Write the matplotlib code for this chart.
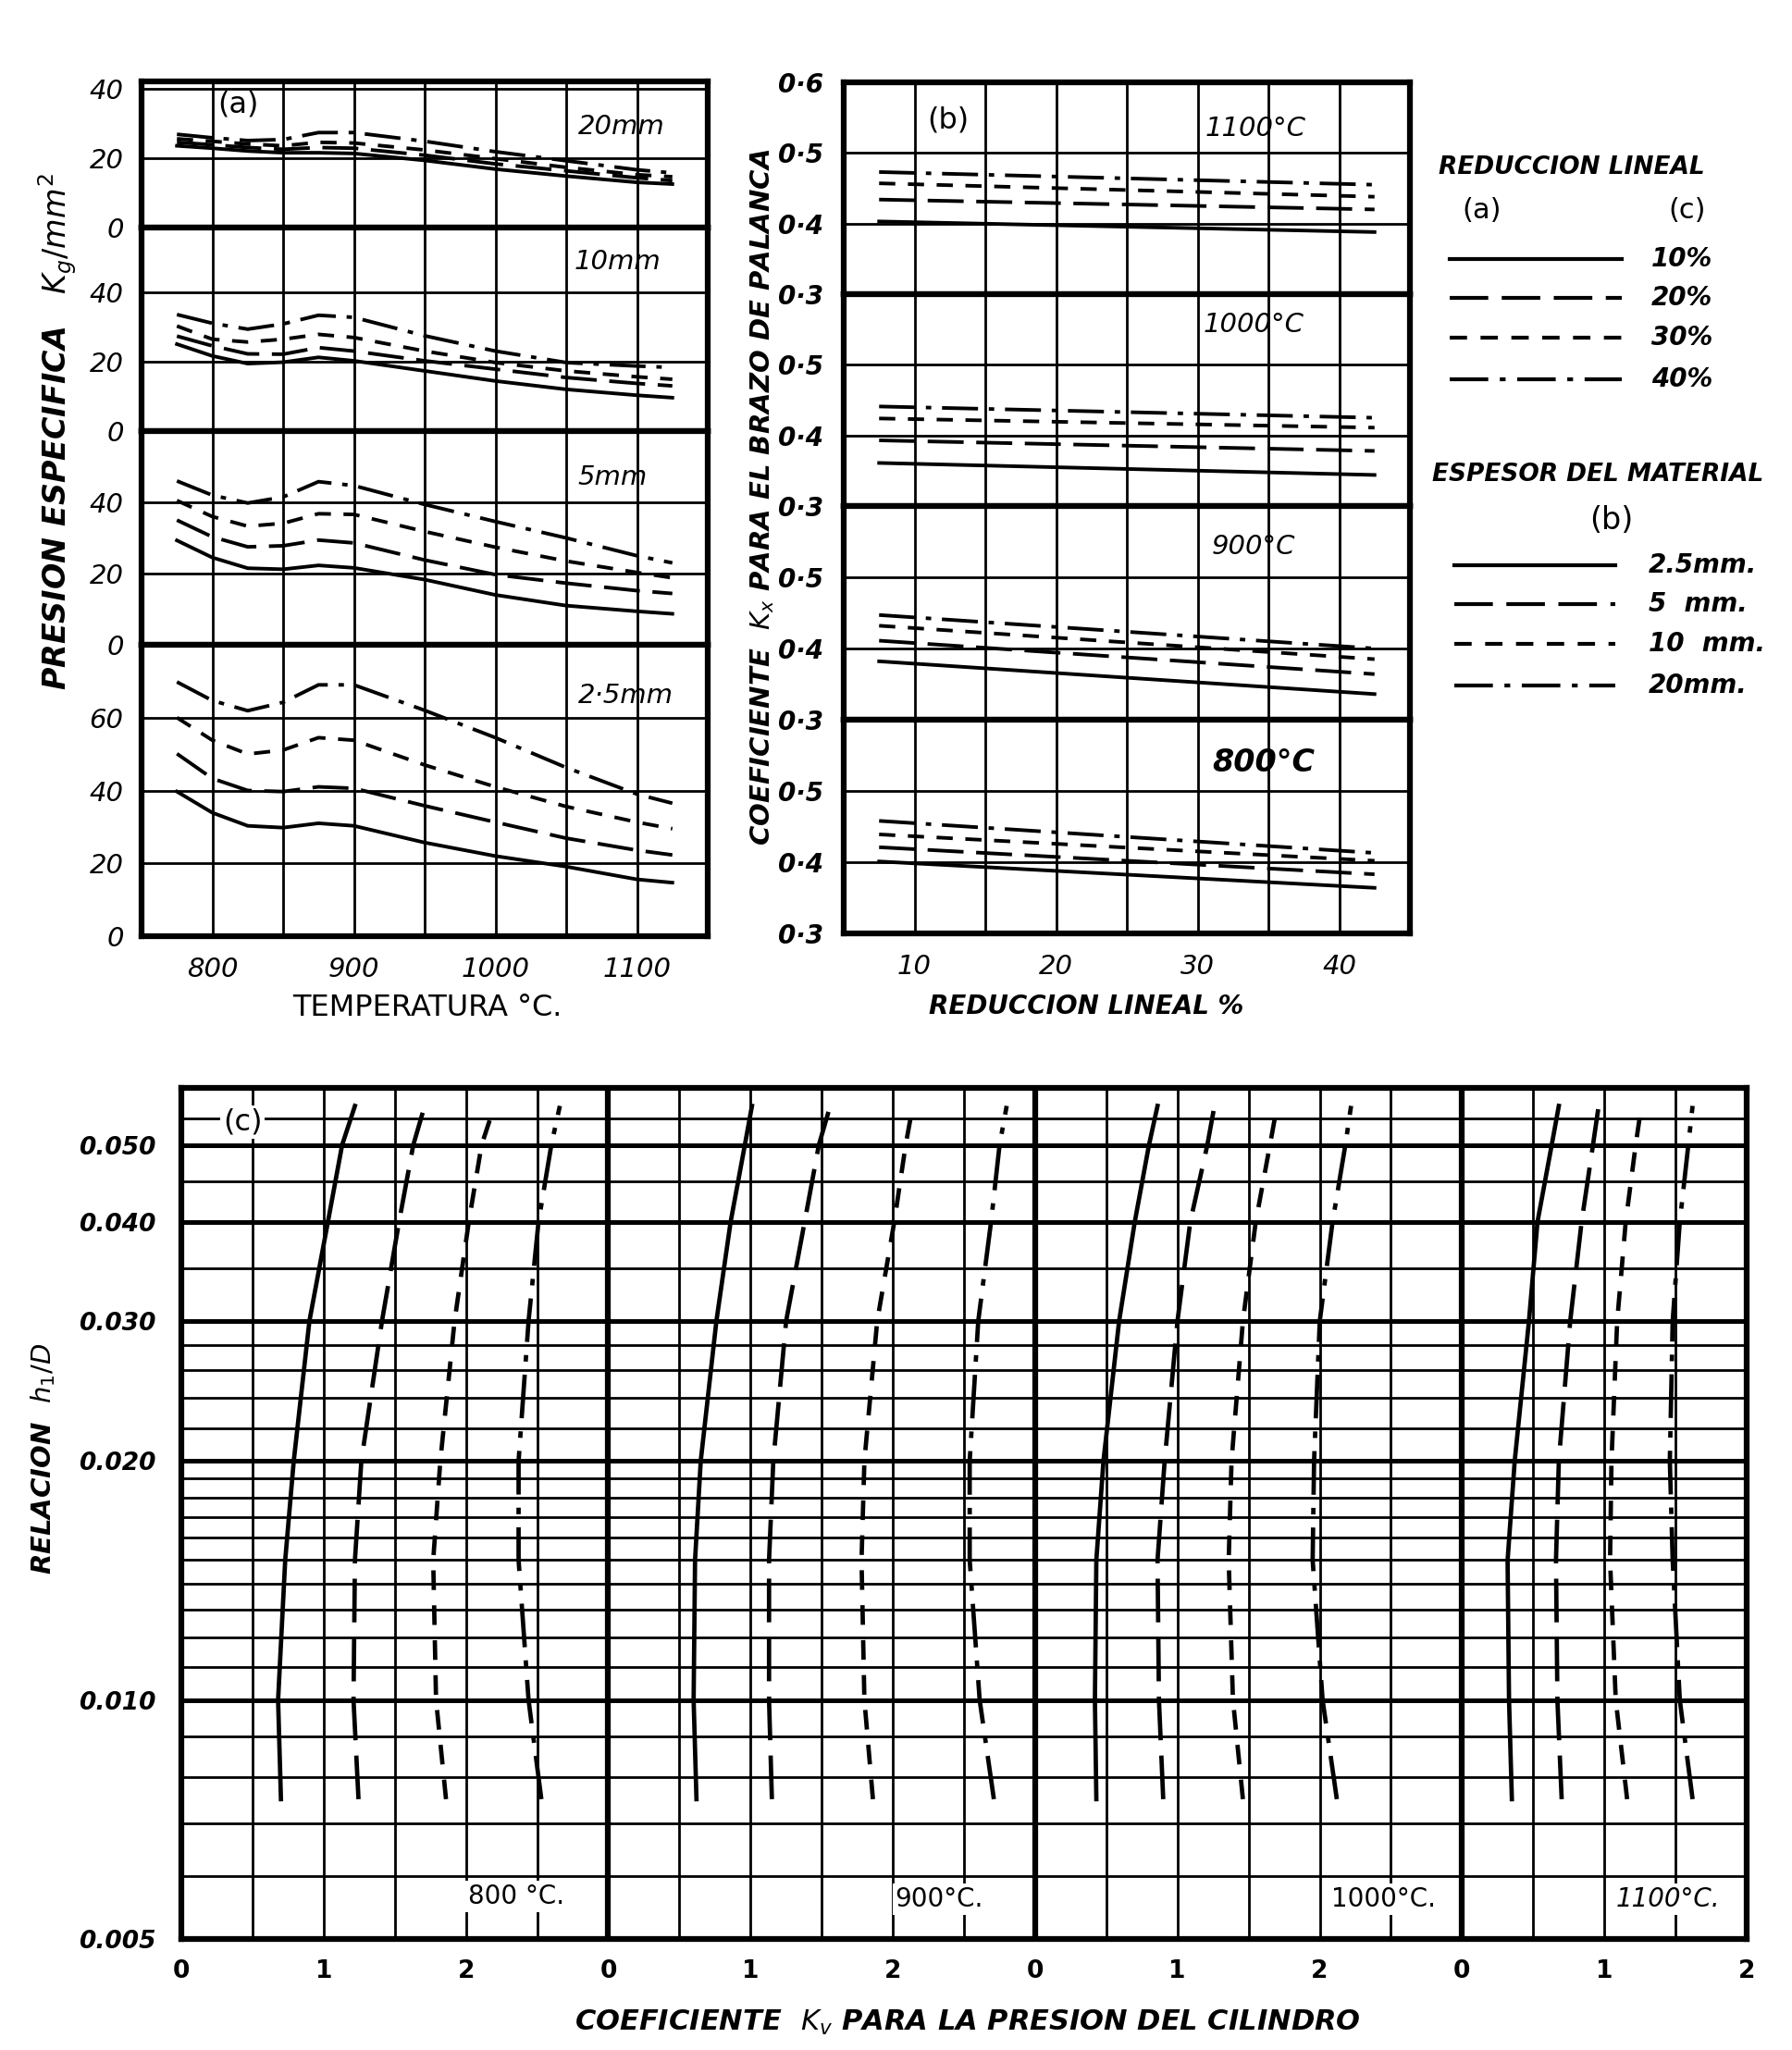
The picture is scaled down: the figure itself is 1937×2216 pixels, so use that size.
import numpy as np
import matplotlib.pyplot as plt
from matplotlib.ticker import NullLocator

plt.rcParams['font.family'] = ['DejaVu Sans']

W, H = 1937, 2216

# ---------------- data ----------------
# (a) presion especifica kg/mm2 vs temperatura, por espesor; curvas 10,20,30,40 %
temp = [775, 800, 825, 850, 875, 900, 950, 1000, 1050, 1100, 1125]
a_20mm = [
    [23.5, 22.8, 22.0, 21.5, 21.5, 21.3, 19.3, 16.8, 14.8, 13.0, 12.5],
    [24.5, 23.8, 23.0, 22.5, 23.0, 22.8, 20.8, 18.3, 16.3, 14.3, 13.5],
    [25.5, 24.8, 24.0, 23.5, 24.5, 24.3, 22.3, 19.8, 17.3, 15.2, 14.6],
    [26.8, 25.8, 25.0, 25.3, 27.3, 27.3, 24.8, 21.8, 19.2, 16.6, 15.7],
]
a_10mm = [
    [25.0, 21.6, 19.4, 19.8, 21.2, 20.2, 17.3, 14.4, 12.0, 10.3, 9.6],
    [27.3, 24.5, 22.2, 22.1, 24.0, 23.0, 20.2, 17.8, 15.4, 13.7, 13.0],
    [30.2, 26.4, 25.6, 26.4, 27.8, 26.9, 23.0, 19.7, 17.3, 15.6, 14.9],
    [33.5, 31.0, 29.3, 30.8, 33.3, 32.7, 27.4, 23.0, 19.7, 18.7, 18.3],
]
a_5mm = [
    [29.3, 24.5, 21.5, 21.2, 22.3, 21.6, 18.3, 14.0, 11.0, 9.4, 8.7],
    [35.0, 30.3, 27.5, 27.8, 29.4, 28.6, 23.8, 19.7, 17.3, 15.2, 14.4],
    [40.5, 36.0, 33.3, 34.1, 36.8, 36.6, 31.8, 27.4, 23.5, 20.3, 18.8],
    [46.0, 42.0, 39.8, 41.5, 45.8, 44.7, 39.4, 34.6, 30.0, 25.0, 23.0],
]
a_2_5mm = [
    [39.7, 33.9, 30.3, 29.8, 31.0, 30.3, 25.7, 22.0, 19.1, 15.6, 14.7],
    [50.1, 43.3, 40.0, 39.7, 41.0, 40.6, 35.8, 31.3, 26.9, 23.6, 22.3],
    [60.0, 53.8, 50.0, 51.1, 54.5, 53.8, 47.0, 41.0, 35.6, 31.3, 29.5],
    [69.8, 64.7, 61.9, 64.2, 69.0, 69.0, 62.0, 54.5, 46.3, 39.0, 36.5],
]

# (b) coeficiente Kx vs reduccion lineal %, curvas 2.5, 5, 10, 20 mm
red = [7.5, 42.5]
b_1100 = [[0.403, 0.388], [0.434, 0.420], [0.457, 0.438], [0.473, 0.455]]
b_1000 = [[0.361, 0.344], [0.393, 0.378], [0.424, 0.411], [0.441, 0.425]]
b_900 = [[0.382, 0.336], [0.411, 0.364], [0.432, 0.385], [0.447, 0.400]]
b_800 = [[0.401, 0.364], [0.421, 0.383], [0.439, 0.402], [0.458, 0.413]]

# (c) coeficiente Kv vs relacion h1/D, curvas 10, 20, 30, 40 %
hd = [0.0075, 0.010, 0.015, 0.020, 0.030, 0.040, 0.050, 0.056]
c_800 = [
    [0.70, 0.68, 0.73, 0.79, 0.90, 1.03, 1.13, 1.22],
    [1.245, 1.21, 1.22, 1.265, 1.41, 1.53, 1.63, 1.71],
    [1.86, 1.79, 1.77, 1.82, 1.92, 2.02, 2.11, 2.20],
    [2.53, 2.44, 2.37, 2.37, 2.44, 2.51, 2.60, 2.66],
]
c_900 = [
    [0.62, 0.60, 0.61, 0.65, 0.76, 0.86, 0.96, 1.01],
    [1.15, 1.13, 1.13, 1.16, 1.25, 1.38, 1.48, 1.56],
    [1.86, 1.80, 1.78, 1.80, 1.89, 2.01, 2.09, 2.14],
    [2.71, 2.61, 2.54, 2.54, 2.60, 2.69, 2.75, 2.80],
]
c_1000 = [
    [0.43, 0.42, 0.43, 0.48, 0.59, 0.70, 0.80, 0.86],
    [0.90, 0.87, 0.86, 0.91, 1.00, 1.09, 1.21, 1.26],
    [1.46, 1.39, 1.36, 1.38, 1.46, 1.55, 1.65, 1.70],
    [2.12, 2.02, 1.95, 1.96, 2.00, 2.09, 2.18, 2.22],
]
c_1100 = [
    [0.35, 0.33, 0.32, 0.37, 0.47, 0.53, 0.63, 0.68],
    [0.70, 0.67, 0.66, 0.68, 0.76, 0.84, 0.92, 0.96],
    [1.16, 1.08, 1.04, 1.05, 1.09, 1.15, 1.22, 1.26],
    [1.62, 1.53, 1.48, 1.46, 1.48, 1.53, 1.59, 1.62],
]
c_lines_thin = [0.006, 0.007, 0.008, 0.009, 0.011, 0.012, 0.013, 0.014, 0.015,
                0.016, 0.017, 0.018, 0.019, 0.022, 0.024, 0.026, 0.028, 0.035,
                0.045, 0.054]
c_lines_thick = [0.010, 0.020, 0.030, 0.040, 0.050]

pct_labels = ['10%', '20%', '30%', '40%']
mm_labels = ['2.5mm.', '5  mm.', '10  mm.', '20mm.']

# ---------------- styles ----------------
styles = ['-', (0, (10, 3.5)), (0, (4.5, 3.5)), (0, (10, 3, 1.5, 3))]
K = 'black'
GRID = 2.0
THICK = 4.5


def rect(l, t, r, b):
    return [l / W, 1 - b / H, (r - l) / W, (b - t) / H]


def ftext(x, y, s, **kw):
    fig.text(x / W, 1 - y / H, s, **kw)


def frame(ax):
    for sp in ax.spines.values():
        sp.set_linewidth(THICK)
    ax.tick_params(length=0)


fig = plt.figure(figsize=(W / 100, H / 100), dpi=100)

# ---------------- panel (a) ----------------
a_edges = [88, 246, 466, 697, 1012]
a_sets = [(a_20mm, 42, [0, 20, 40]),
          (a_10mm, 58.5, [0, 20, 40]),
          (a_5mm, 60, [0, 20, 40]),
          (a_2_5mm, 80, [0, 20, 40, 60])]
for i, (data, top, ticks) in enumerate(a_sets):
    ax = fig.add_axes(rect(153, a_edges[i], 765, a_edges[i + 1]))
    ax.set_xlim(750, 1150)
    ax.set_ylim(0, top)
    for x in range(800, 1150, 50):
        ax.axvline(x, color=K, lw=GRID, zorder=1)
    for y in range(20, int(top - 1), 20):
        ax.axhline(y, color=K, lw=GRID, zorder=1)
    for vals, ls in zip(data, styles):
        ax.plot(temp, vals, color=K, lw=2.8, linestyle=ls, zorder=3)
    frame(ax)
    ax.set_yticks(ticks)
    ax.set_yticklabels([str(t) for t in ticks], fontsize=21, style='italic')
    ax.tick_params(axis='y', pad=14)
    if i == 3:
        ax.set_xticks([800, 900, 1000, 1100])
        ax.set_xticklabels(['800', '900', '1000', '1100'], fontsize=21,
                           style='italic')
        ax.tick_params(axis='x', pad=16)
    else:
        ax.set_xticks([])

ftext(257, 113, '(a)', fontsize=23, ha='center', va='center')
ftext(672, 137, '20mm', fontsize=21, style='italic', ha='center', va='center')
ftext(667, 283, '10mm', fontsize=21, style='italic', ha='center', va='center')
ftext(662, 516, '5mm', fontsize=21, style='italic', ha='center', va='center')
ftext(676, 752, '2·5mm', fontsize=21, style='italic', ha='center', va='center')
ftext(62, 467, 'PRESION ESPECIFICA   $K_g/mm^2$', fontsize=24, style='italic',
      weight='bold', rotation=90, ha='center', va='center')
ftext(462, 1090, 'TEMPERATURA °C.', fontsize=23, ha='center', va='center')

# ---------------- panel (b) ----------------
b_edges = [89, 318, 547, 778, 1009]
b_sets = [b_1100, b_1000, b_900, b_800]
for i, data in enumerate(b_sets):
    ax = fig.add_axes(rect(912, b_edges[i], 1524, b_edges[i + 1]))
    ax.set_xlim(5, 45)
    ax.set_ylim(0.3, 0.6)
    for x in range(10, 45, 5):
        ax.axvline(x, color=K, lw=GRID, zorder=1)
    for y in [0.4, 0.5]:
        ax.axhline(y, color=K, lw=GRID, zorder=1)
    for vals, ls in zip(data, styles):
        ax.plot(red, vals, color=K, lw=2.8, linestyle=ls, zorder=3)
    frame(ax)
    ticks = [0.3, 0.4, 0.5, 0.6] if i == 0 else [0.3, 0.4, 0.5]
    ax.set_yticks(ticks)
    ax.set_yticklabels([('%.1f' % t).replace('.', '·') for t in ticks],
                       fontsize=20, style='italic', weight='bold')
    ax.tick_params(axis='y', pad=16)
    if i == 3:
        ax.set_xticks([10, 20, 30, 40])
        ax.set_xticklabels(['10', '20', '30', '40'], fontsize=21,
                           style='italic')
        ax.tick_params(axis='x', pad=16)
    else:
        ax.set_xticks([])

ftext(1025, 130, '(b)', fontsize=23, ha='center', va='center')
ftext(1357, 139, '1100°C', fontsize=21, style='italic', ha='center', va='center')
ftext(1355, 351, '1000°C', fontsize=21, style='italic', ha='center', va='center')
ftext(1355, 591, '900°C', fontsize=21, style='italic', ha='center', va='center')
ftext(1366, 824, '800°C', fontsize=24, style='italic', weight='bold',
      ha='center', va='center')
ftext(824, 537, 'COEFICIENTE  $K_x$ PARA EL BRAZO DE PALANCA', fontsize=21,
      style='italic', weight='bold', rotation=90, ha='center', va='center')
ftext(1174, 1088, 'REDUCCION LINEAL %', fontsize=20, style='italic',
      weight='bold', ha='center', va='center')

# ---------------- legend ----------------
lg = fig.add_axes(rect(1530, 140, 1937, 780))
lg.set_xlim(1530, 1937)
lg.set_ylim(780, 140)
lg.axis('off')
lg.text(1555, 181, 'REDUCCION LINEAL', fontsize=19, style='italic',
        weight='bold', va='center')
lg.text(1602, 228, '(a)', fontsize=22, ha='center', va='center')
lg.text(1824, 228, '(c)', fontsize=22, ha='center', va='center')
for y, ls, lab in zip([280, 322, 365, 410], styles, pct_labels):
    lg.plot([1567, 1753], [y, y], color=K, lw=3, linestyle=ls)
    lg.text(1785, y, lab, fontsize=20, style='italic', weight='bold',
            va='center')
lg.text(1548, 513, 'ESPESOR DEL MATERIAL', fontsize=19, style='italic',
        weight='bold', va='center')
lg.text(1742, 563, '(b)', fontsize=24, ha='center', va='center')
for y, ls, lab in zip([611, 653, 696, 741], styles, mm_labels):
    lg.plot([1572, 1746], [y, y], color=K, lw=3, linestyle=ls)
    lg.text(1782, y, lab, fontsize=20, style='italic', weight='bold',
            va='center')

# ---------------- panel (c) ----------------
ax = fig.add_axes(rect(196, 1176, 1888, 2096))
ax.set_yscale('log')
ax.set_xlim(0, 11)
ax.set_ylim(0.005, 0.059)
for y in c_lines_thin:
    ax.axhline(y, color=K, lw=GRID, zorder=1)
for y in c_lines_thick:
    ax.axhline(y, color=K, lw=3.6, zorder=1)
for x in np.arange(0.5, 11, 0.5):
    thick = x in (3, 6, 9)
    ax.axvline(x, color=K, lw=THICK if thick else GRID, zorder=1)
offsets = [0, 3, 6, 9]
for off, data in zip(offsets, [c_800, c_900, c_1000, c_1100]):
    for vals, ls in zip(data, styles):
        ax.plot(np.array(vals) + off, hd, color=K, lw=3.4, linestyle=ls,
                zorder=3)
frame(ax)
ax.yaxis.set_minor_locator(NullLocator())
ax.set_yticks([0.005, 0.010, 0.020, 0.030, 0.040, 0.050])
ax.set_yticklabels(['0.005', '0.010', '0.020', '0.030', '0.040', '0.050'],
                   fontsize=19, style='italic', weight='bold')
ax.tick_params(axis='y', pad=20)
ax.set_xticks(range(12))
ax.set_xticklabels(['0', '1', '2'] * 4, fontsize=19, weight='bold')
ax.tick_params(axis='x', pad=16)

box = dict(facecolor='white', edgecolor='none', pad=2)
ftext(262, 1213, '(c)', fontsize=23, ha='center', va='center', bbox=box)
ftext(558, 2050, '800 °C.', fontsize=20, ha='center', va='center', bbox=box)
ftext(1015, 2053, '900°C.', fontsize=20, ha='center', va='center', bbox=box)
ftext(1496, 2053, '1000°C.', fontsize=20, ha='center', va='center', bbox=box)
ftext(1803, 2053, '1100°C.', fontsize=20, style='italic', ha='center',
      va='center', bbox=box)
ftext(47, 1577, 'RELACION  $h_1/D$', fontsize=21, style='italic',
      weight='bold', rotation=90, ha='center', va='center')
ftext(1046, 2186, 'COEFICIENTE  $K_v$ PARA LA PRESION DEL CILINDRO',
      fontsize=22, style='italic', weight='bold', ha='center', va='center')

fig.savefig('out.png', dpi=100, facecolor='white')
